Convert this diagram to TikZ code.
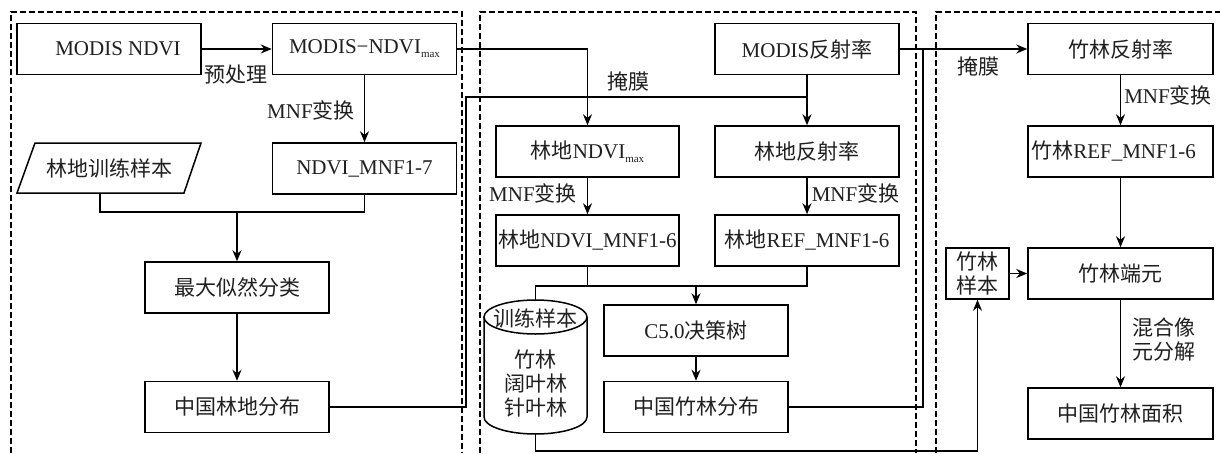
\documentclass[tikz,border=0pt]{standalone}
\usepackage{fontspec}
\setmainfont{Liberation Serif}
\newfontfamily\cjk{Noto Sans CJK SC}
\usetikzlibrary{arrows.meta}
\newcommand{\zh}[1]{{\cjk #1}}
\newcommand{\mx}{\raisebox{-4pt}{\fontsize{11}{11}\selectfont max}}
\begin{document}
\begin{tikzpicture}[x=1pt,y=-1pt,
  every node/.style={font=\fontsize{21}{24}\selectfont, text=black!88},
  box/.style={draw=black, line width=1.5pt, minimum width=184pt, minimum height=51pt, inner sep=0pt},
  conn/.style={line width=1.5pt},
  arr/.style={conn, -{Stealth[length=11pt,width=9pt]}},
  panel/.style={line width=1.2pt, dash pattern=on 6pt off 3pt},
  lbl/.style={inner sep=0pt}
]
\useasboundingbox (0,0) rectangle (1220,453);
% panels
\draw[panel] (11,453) -- (11,12) -- (462,12) -- (462,453);
\draw[panel] (480,453) -- (480,12) -- (916,12) -- (916,453);
\draw[panel] (936,453) -- (936,12) -- (1220,12);

% left panel
\node[box] (m1) at (109,49) {\hspace*{18pt}MODIS NDVI};
\node[box] (m2) at (364.5,49) {MODIS−NDVI\mx};
\node[box] (nm7) at (364.5,168.5) {NDVI\_MNF1-7};
\node[lbl, minimum width=184pt, minimum height=50pt] (lt) at (109,168) {\zh{林地训练样本}};
\draw[conn] (35,143) -- (201,143) -- (184,193) -- (17,193) -- cycle;
\node[box] (ml) at (237,287.5) {\zh{最大似然分类}};
\node[box] (lf) at (237,407) {\zh{中国林地分布}};

% middle panel
\node[box] (mr) at (807,49) {MODIS\zh{反射率}};
\node[box, minimum width=183pt] (ln) at (587.5,151.5) {\zh{林地}NDVI\mx};
\node[box] (lr) at (807,151.5) {\zh{林地反射率}};
\node[box, minimum width=183pt] (lnm) at (587.5,240.5) {\zh{林地}NDVI\_MNF1-6};
\node[box] (lrm) at (807,240.5) {\zh{林地}REF\_MNF1-6};
\node[box] (c5) at (696,330.5) {C5.0\zh{决策树}};
\node[box] (cf) at (696,407) {\zh{中国竹林分布}};
\node[lbl, minimum width=103pt, minimum height=133pt] (cyl) at (535.5,366.5) {};
\draw[conn] (484,317) -- (484,417) arc[start angle=180,end angle=360,x radius=51.5pt,y radius=17pt] -- (587,317);
\draw[conn] (535.5,317) ellipse [x radius=51.5pt, y radius=17pt];
\node (cylt) at (535.5,318) {\zh{训练样本}};
\node[align=center] (cylb) at (535.5,384) {\zh{竹林}\\\zh{阔叶林}\\\zh{针叶林}};

% right panel
\node[box, minimum width=185pt] (zr) at (1120.5,49) {\zh{竹林反射率}};
\node[box, minimum width=185pt] (zrm) at (1120.5,151.5) {\zh{竹林}REF\_MNF1-6\hspace*{14pt}};
\node[box, minimum width=185pt] (ze) at (1120.5,273.5) {\zh{竹林端元}};
\node[box, minimum width=63pt, align=center] (zs) at (977.5,273.5) {\zh{竹林}\\\zh{样本}};
\node[box, minimum width=185pt] (za) at (1120.5,413.5) {\zh{中国竹林面积}};

% labels
\node[lbl] (l1) at (236,75) {\zh{预处理}};
\node[lbl] (l2) at (311,110) {MNF\zh{变换}};
\node[lbl] (l3) at (628,82) {\zh{掩膜}};
\node[lbl] (l4) at (533,193) {MNF\zh{变换}};
\node[lbl] (l5) at (855.5,193) {MNF\zh{变换}};
\node[lbl] (l6) at (978,67) {\zh{掩膜}};
\node[lbl] (l7) at (1168,95) {MNF\zh{变换}};
\node[lbl, align=center] (l8) at (1163.5,340) {\zh{混合像}\\\zh{元分解}};

% coordinates
\coordinate (j1) at (237,212);
\coordinate (k0) at (466,97);
\coordinate (k1) at (807,97);
\coordinate (j3) at (535.5,286);
\coordinate (j2) at (696,286);
\coordinate (k2) at (923,49);
\coordinate (k3) at (535.5,451);

% connectors left
\draw[arr] (m1.east) -- (m2.west);
\draw[arr] (m2.south) -- (nm7.north);
\draw[conn] ([xshift=-9pt]lt.south) |- (j1) -| (nm7.south);
\draw[arr] (j1) -- (ml.north);
\draw[arr] (ml.south) -- (lf.north);
\draw[conn] (lf.east) -| (k0) -- (k1);

% connectors middle
\draw[arr] (m2.east) -| (ln.north);
\draw[arr] (mr.south) -- (lr.north);
\draw[arr] (ln.south) -- (lnm.north);
\draw[arr] (lr.south) -- (lrm.north);
\draw[conn] (cyl.north) -- (j3) -| (lrm.south);
\draw[conn] (lnm.south) -- (lnm.south |- j3);
\draw[arr] (j2) -- (c5.north);
\draw[arr] (c5.south) -- (cf.north);
\draw[conn] (cf.east) -| (k2);

% connectors right
\draw[arr] (mr.east) -- (zr.west);
\draw[arr] (zr.south) -- (zrm.north);
\draw[arr] (zrm.south) -- (ze.north);
\draw[arr] (ze.south) -- (za.north);
\draw[arr] (zs.east) -- (ze.west);
\draw[arr] (cyl.south) -- (k3) -| (zs.south);
\end{tikzpicture}
\end{document}
